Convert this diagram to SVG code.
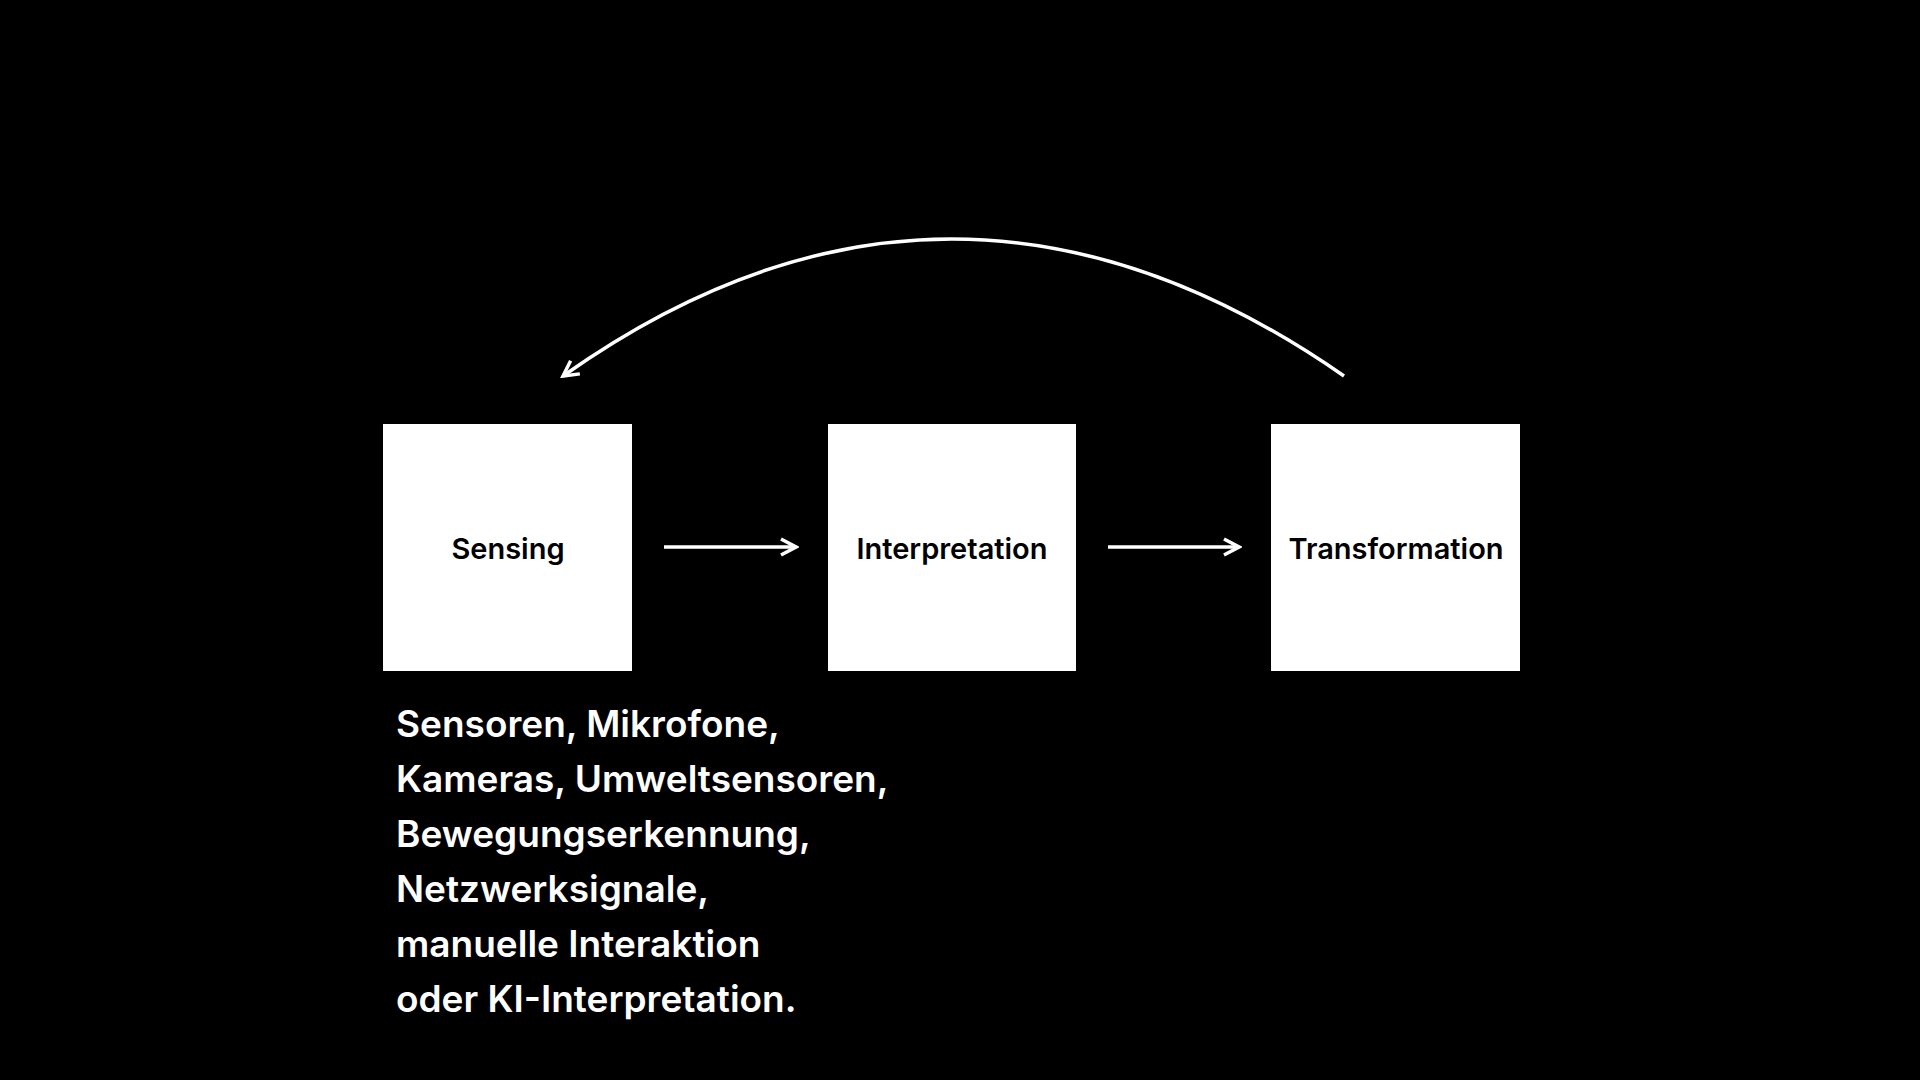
<svg xmlns="http://www.w3.org/2000/svg" width="1920" height="1080" viewBox="0 0 1920 1080">
<style>
.box{fill:#fff}
.lbl{font-family:Inter,"Liberation Sans",sans-serif;font-weight:600;font-size:29px;fill:#000;text-anchor:middle}
.c{stroke:#fff;stroke-width:3.5;fill:none}
.desc{font-family:Inter,"Liberation Sans",sans-serif;font-weight:600;font-size:37px;fill:#fff}
</style>
<defs>
<marker id="ah" viewBox="0 0 12 12" refX="10" refY="6" markerWidth="12" markerHeight="12" markerUnits="userSpaceOnUse" orient="auto">
<path d="M1,1 L10,6 L1,11" fill="none" stroke="#fff" stroke-width="2.5"/>
</marker>
<marker id="ah2" viewBox="0 0 20 20" refX="17" refY="10" markerWidth="20" markerHeight="20" markerUnits="userSpaceOnUse" orient="auto">
<path d="M2,2 L17,10 L2,18" fill="none" stroke="#fff" stroke-width="3.5"/>
</marker>
</defs>
<rect width="1920" height="1080" fill="#000"/>
<g id="sensing"><rect class="box" x="383" y="424" width="249" height="247"/><text class="lbl" x="508" y="559">Sensing</text></g>
<g id="interpretation"><rect class="box" x="828" y="424" width="248" height="247"/><text class="lbl" x="952" y="559">Interpretation</text></g>
<g id="transformation"><rect class="box" x="1271" y="424" width="249" height="247"/><text class="lbl" x="1396" y="559">Transformation</text></g>
<g id="connectors">
<line class="c" x1="664" y1="547" x2="796" y2="547" marker-end="url(#ah2)"/>
<line class="c" x1="1108" y1="547" x2="1239" y2="547" marker-end="url(#ah2)"/>
<path class="c" d="M1344,376 Q950,102 563,376" marker-end="url(#ah2)"/>
</g>
<g id="description">
<text class="desc" x="396" y="737">Sensoren, Mikrofone,</text>
<text class="desc" x="396" y="792">Kameras, Umweltsensoren,</text>
<text class="desc" x="396" y="847">Bewegungserkennung,</text>
<text class="desc" x="396" y="902">Netzwerksignale,</text>
<text class="desc" x="396" y="957">manuelle Interaktion</text>
<text class="desc" x="396" y="1012">oder KI-Interpretation.</text>
</g>
</svg>
